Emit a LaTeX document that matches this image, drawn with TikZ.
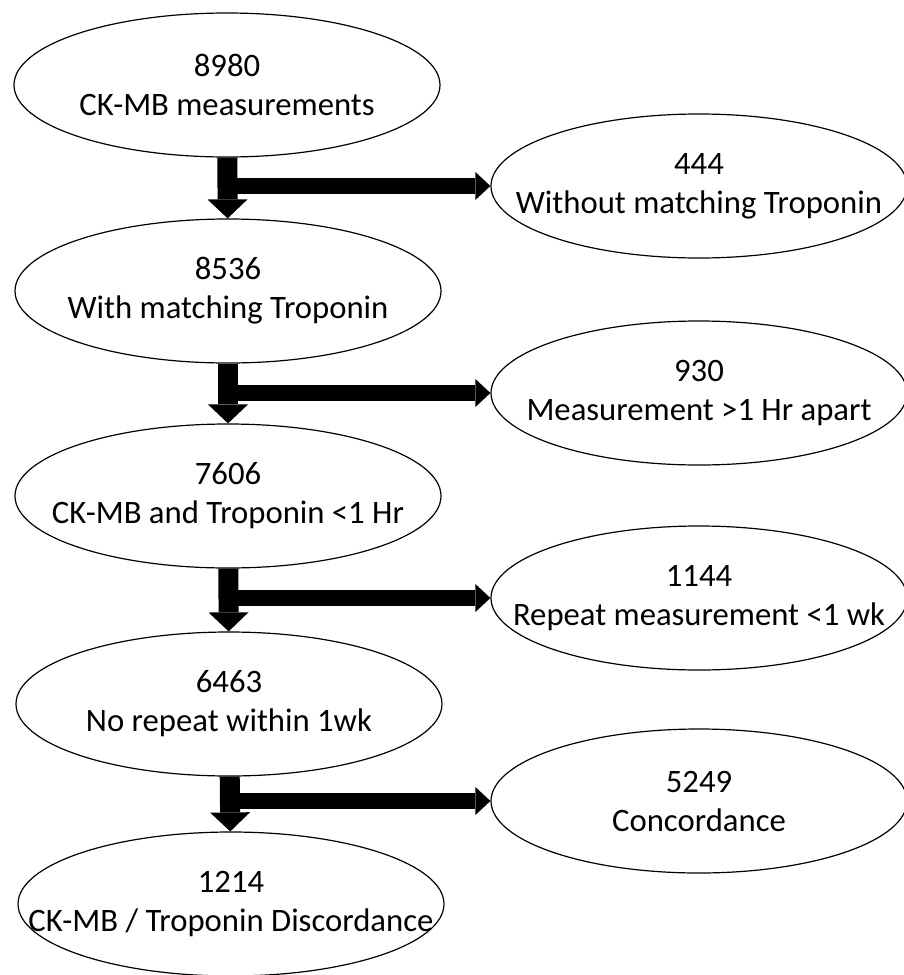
\documentclass[tikz,border=0pt]{standalone}
\usepackage{fontspec}
\setmainfont{Carlito}
\usetikzlibrary{arrows.meta,shapes.geometric}
\newcommand{\twoLine}[2]{\makebox[0pt]{#1}\\\makebox[0pt]{#2}}
\tikzstyle{eS}=[ellipse,draw,line width=1.2pt,minimum width=426pt,minimum height=144pt,inner sep=0pt,align=center,font=\fontsize{32.7}{39}\selectfont]
\tikzstyle{rS}=[eS,minimum width=416pt]
\tikzstyle{eDown}=[line width=20pt,-{Triangle[width=40pt 0 0,length=19pt 0 0,line width=0pt 0 0]}]
\tikzstyle{eSide}=[line width=16pt,-{Triangle[width=28pt 0 0,length=15pt 0 0,line width=0pt 0 0]}]
\begin{document}
\begin{tikzpicture}[x=1pt,y=-1pt]%[x=1 px, y=1 px]

                \useasboundingbox (0,0) rectangle (904,975);

                \draw (227,85) node[eS] (n0) {\twoLine{8980}{CK-MB measurements}};
                \draw (228,291) node[eS] (n1) {\twoLine{8536}{With matching Troponin}};
                \draw (228,496) node[eS] (n2) {\twoLine{7606}{CK-MB and Troponin <1 Hr}};
                \draw (229,704) node[eS] (n3) {\twoLine{6463}{No repeat within 1wk}};
                \draw (231,904) node[eS] (n4) {\twoLine{1214}{CK-MB / Troponin Discordance}};

                \draw (699,186) node[rS] (r0) {\twoLine{444}{Without matching Troponin}};
                \draw (699,393) node[rS] (r1) {\twoLine{930}{Measurement >1 Hr apart}};
                \draw (699,598) node[rS] (r2) {\twoLine{1144}{Repeat measurement <1 wk}};
                \draw (699,801) node[rS] (r3) {\twoLine{5249}{Concordance}};

                \coordinate (b0) at (n0.south |- r0.west);
                \coordinate (b1) at (n1.south |- r1.west);
                \coordinate (b2) at (n2.south |- r2.west);
                \coordinate (b3) at (n3.south |- r3.west);

                \path
                    (n0) edge[eDown] (n1)
                    (n1) edge[eDown] (n2)
                    (n2) edge[eDown] (n3)
                    (n3) edge[eDown] (n4)
                    (b0) edge[eSide] (r0)
                    (b1) edge[eSide] (r1)
                    (b2) edge[eSide] (r2)
                    (b3) edge[eSide] (r3)
                ;

        \end{tikzpicture}
\end{document}
